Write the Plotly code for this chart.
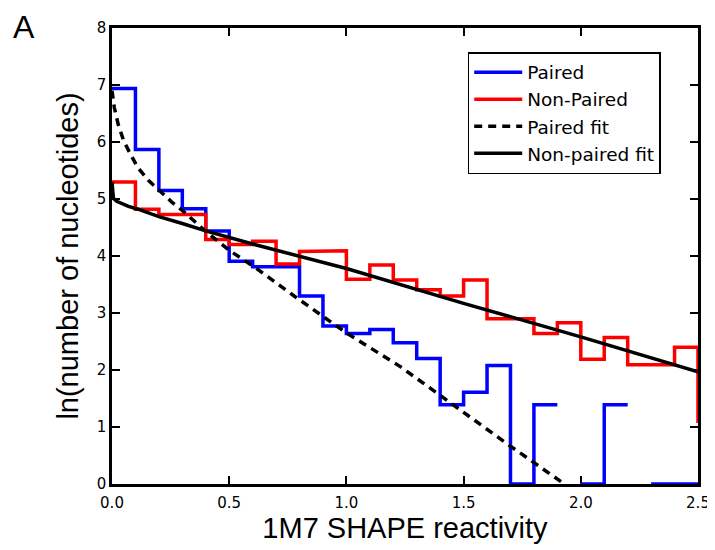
import plotly.graph_objects as go

# Histogram bins (width 0.1) of SHAPE reactivity, ln(count) per bin
bin_edges = [round(0.1 * i, 1) for i in range(27)]  # 0.0 .. 2.6

paired_ln = [6.94, 5.87, 5.15, 4.83, 4.44, 3.91, 3.81, 3.81, 3.30, 2.77,
             2.64, 2.71, 2.48, 2.20, 1.39, 1.61, 2.08, 0.0, 1.39, None,
             0.0, 1.39, None, 0.0, 0.0]

nonpaired_ln = [5.30, 4.82, 4.73, 4.73, 4.29, 4.20, 4.26, 3.86, 4.08, 4.09,
                3.59, 3.84, 3.58, 3.41, 3.30, 3.58, 2.90, 2.90, 2.64, 2.83,
                2.19, 2.57, 2.09, 2.09, 2.40, 1.10]

# Fit curves sampled from the figure
paired_fit_x = [0.0, 0.01, 0.027, 0.05, 0.077, 0.11, 0.155, 0.2, 0.254, 0.3,
                0.4, 0.5, 0.617, 0.78, 1.0, 1.23, 1.456, 1.684, 1.93]
paired_fit_y = [6.90, 6.60, 6.30, 6.02, 5.80, 5.55, 5.33, 5.15, 4.95, 4.80,
                4.43, 4.10, 3.78, 3.29, 2.65, 2.06, 1.39, 0.71, 0.0]

nonpaired_fit_x = [0.0, 0.003, 0.006, 0.02, 0.041, 0.07, 0.105, 0.2, 0.3, 0.4,
                   0.6, 0.8, 1.0, 1.5, 2.0, 2.5]
nonpaired_fit_y = [5.30, 5.12, 5.01, 4.96, 4.92, 4.87, 4.83, 4.69, 4.57, 4.44,
                   4.21, 3.99, 3.78, 3.17, 2.58, 1.97]

x_ticks = [0.0, 0.5, 1.0, 1.5, 2.0, 2.5]
y_ticks = [0, 1, 2, 3, 4, 5, 6, 7, 8]


def step_path(edges, vals):
    xs, ys = [], []
    for i, v in enumerate(vals):
        if v is None:
            xs.append(None)
            ys.append(None)
            continue
        xs += [edges[i], edges[i + 1]]
        ys += [v, v]
    return xs, ys


px_, py_ = step_path(bin_edges, paired_ln)
nx_, ny_ = step_path(bin_edges, nonpaired_ln)

fig = go.Figure()
fig.add_trace(go.Scatter(x=px_, y=py_, mode="lines", name="Paired",
                         legendgroup="a",
                         line=dict(color="#0000ff", width=3.5), connectgaps=False))
fig.add_trace(go.Scatter(x=nx_, y=ny_, mode="lines", name="Non-Paired",
                         legendgroup="b",
                         line=dict(color="#ff0000", width=3.5), connectgaps=False))
fig.add_trace(go.Scatter(x=paired_fit_x, y=paired_fit_y, mode="lines",
                         name="Paired fit", legendgroup="c",
                         line=dict(color="black", width=3.5, dash="8px,6px")))
fig.add_trace(go.Scatter(x=nonpaired_fit_x, y=nonpaired_fit_y, mode="lines",
                         name="Non-paired fit", legendgroup="d",
                         line=dict(color="black", width=3.5)))

axis_common = dict(showline=True, linecolor="black", linewidth=2.5,
                   mirror="ticks", ticks="inside", ticklen=8, tickwidth=2,
                   tickcolor="black", showgrid=False, zeroline=False,
                   layer="below traces", automargin=False,
                   tickfont=dict(family="DejaVu Sans", size=15, color="black"))

fig.update_xaxes(range=[0, 2.5], tickvals=x_ticks,
                 ticktext=[f"{v:.1f}" for v in x_ticks],
                 ticklabelstandoff=3,
                 title=dict(text="1M7 SHAPE reactivity",
                            font=dict(family="Liberation Sans", size=29, color="black"),
                            standoff=6),
                 **axis_common)
fig.update_yaxes(range=[0, 8], tickvals=y_ticks,
                 ticktext=[str(v) for v in y_ticks],
                 title=dict(text="ln(number of nucleotides)",
                            font=dict(family="Liberation Sans", size=29, color="black"),
                            standoff=10),
                 **axis_common)

fig.update_layout(
    width=707, height=542,
    margin=dict(l=104, r=17, t=20, b=66),
    plot_bgcolor="white", paper_bgcolor="white",
    legend=dict(x=0.607, y=0.947, xanchor="left", yanchor="top",
                bordercolor="black", borderwidth=1.5, bgcolor="white",
                font=dict(family="DejaVu Sans", size=18.5, color="black"),
                tracegroupgap=0, itemwidth=48),
    annotations=[dict(text="A", xref="paper", yref="paper", x=-0.173, y=1.003,
                      xanchor="left", yanchor="middle", showarrow=False,
                      font=dict(family="Liberation Sans", size=32, color="black"))],
)

fig.write_html("out.html")
